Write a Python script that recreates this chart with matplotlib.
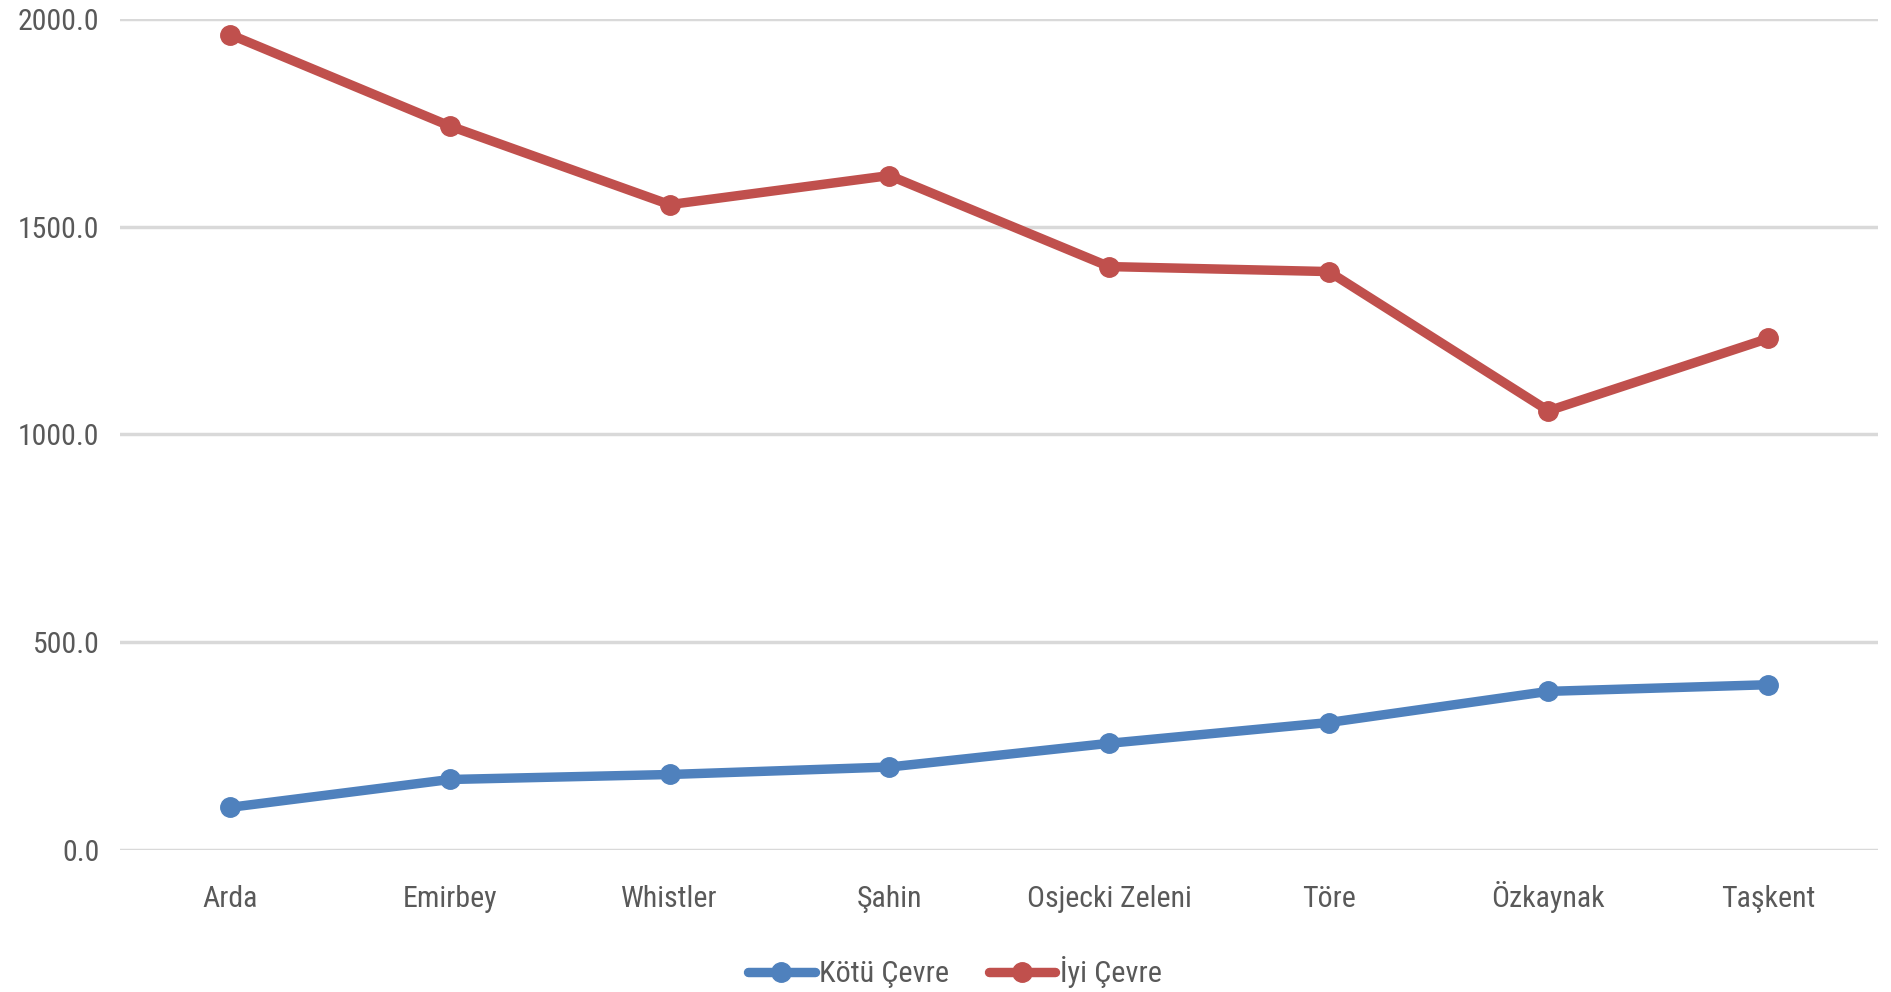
import matplotlib
matplotlib.use("Agg")
import matplotlib.pyplot as plt
from matplotlib.font_manager import fontManager

categories = ["Arda", "Emirbey", "Whistler", "Şahin", "Osjecki Zeleni", "Töre", "Özkaynak", "Taşkent"]
kotu_cevre = [103, 170, 182, 200, 257, 307, 382, 398]
iyi_cevre = [1962, 1742, 1553, 1623, 1404, 1392, 1057, 1231]
series_names = ["Kötü Çevre", "İyi Çevre"]
yticks = [0, 500, 1000, 1500, 2000]

names = {f.name for f in fontManager.ttflist}
primary = "Liberation Sans"
for cand in ["Liberation Sans Narrow", "Roboto Condensed", "Open Sans Condensed"]:
    if cand in names:
        primary = cand
        break
plt.rcParams['font.family'] = [primary, "DejaVu Sans"]

TXT = "#595959"
BLUE = "#4F81BD"
RED = "#C0504D"

fig = plt.figure(figsize=(18.91, 9.92), dpi=100)
ax = fig.add_axes([0.0637, 0.143, 0.9294, 0.838])

x = list(range(len(categories)))
ax.plot(x, kotu_cevre, color=BLUE, lw=6.8, marker="o", ms=14, label=series_names[0], solid_capstyle="round", zorder=3)
ax.plot(x, iyi_cevre, color=RED, lw=6.8, marker="o", ms=14, label=series_names[1], solid_capstyle="round", zorder=3)

ax.set_xlim(-0.5, len(categories) - 0.5)
ax.set_ylim(0, 2000)
ax.set_yticks(yticks)
ax.set_yticklabels([f"{v:.1f}" for v in yticks])
ax.set_xticks(x)
ax.set_xticklabels(categories)
ax.tick_params(axis="both", length=0, labelsize=21.5, labelcolor=TXT)
ax.tick_params(axis="y", pad=15)
ax.tick_params(axis="x", pad=41)
for lbl in ax.get_xticklabels():
    lbl.set_verticalalignment("baseline")
ax.grid(axis="y", color="#D9D9D9", lw=2.5, zorder=0)
ax.set_axisbelow(True)
for s in ax.spines.values():
    s.set_visible(False)

leg = fig.legend(loc="center", bbox_to_anchor=(0.505, 0.02), ncol=2, frameon=False,
                 fontsize=21.8, handlelength=2.2, handletextpad=0.15, columnspacing=1.3,
                 labelcolor=TXT)

fig.savefig("out.png", dpi=100)
